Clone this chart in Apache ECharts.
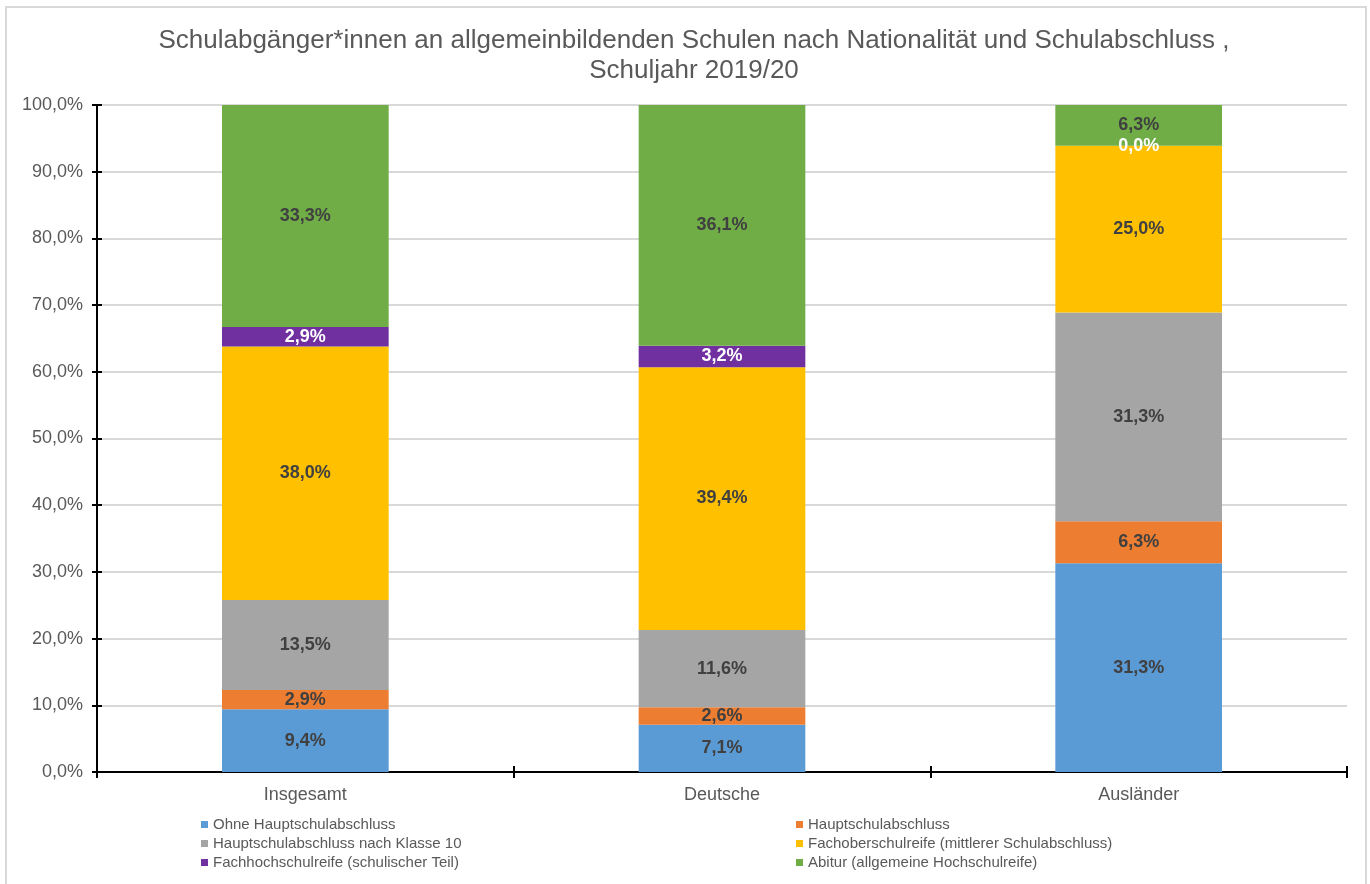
<!DOCTYPE html>
<html>
<head>
<meta charset="utf-8">
<script src="https://cdn.jsdelivr.net/npm/echarts@6/dist/echarts.min.js"></script>
<style>
  html, body { margin: 0; padding: 0; background: #ffffff; }
  #chart { width: 1370px; height: 884px; }
</style>
</head>
<body>
<div id="chart"></div>
<script>
// Schulabgänger*innen 2019/20, Anteile in Prozent je Gruppe
const categories = ['Insgesamt', 'Deutsche', 'Ausländer'];

const ohneHauptschulabschluss = [9.4, 7.1, 31.3];
const hauptschulabschluss = [2.9, 2.6, 6.3];
const hauptschulabschlussKlasse10 = [13.5, 11.6, 31.3];
const fachoberschulreife = [38.0, 39.4, 25.0];
const fachhochschulreife = [2.9, 3.2, 0.0];
const abitur = [33.3, 36.1, 6.3];

const yTicks = [0, 10, 20, 30, 40, 50, 60, 70, 80, 90, 100];

const seriesDefs = [
  { name: 'Ohne Hauptschulabschluss', data: ohneHauptschulabschluss, color: '#5b9bd5', label: '#404040' },
  { name: 'Hauptschulabschluss', data: hauptschulabschluss, color: '#ed7d31', label: '#404040' },
  { name: 'Hauptschulabschluss nach Klasse 10', data: hauptschulabschlussKlasse10, color: '#a5a5a5', label: '#404040' },
  { name: 'Fachoberschulreife (mittlerer Schulabschluss)', data: fachoberschulreife, color: '#ffc000', label: '#404040' },
  { name: 'Fachhochschulreife (schulischer Teil)', data: fachhochschulreife, color: '#7030a0', label: '#ffffff' },
  { name: 'Abitur (allgemeine Hochschulreife)', data: abitur, color: '#70ad47', label: '#404040' }
];

const fmt = v => v.toFixed(1).replace('.', ',') + '%';
const FONT = '"Liberation Sans", Arial, sans-serif';
const GREY = '#595959';

const chart = echarts.init(document.getElementById('chart'), null, { renderer: 'canvas' });

const legendText = { color: GREY, fontSize: 15, fontFamily: FONT };

chart.setOption({
  animation: false,
  backgroundColor: '#ffffff',
  textStyle: { fontFamily: FONT },
  graphic: [{
    type: 'rect',
    shape: { x: 6, y: 7, width: 1360, height: 890 },
    style: { fill: 'none', stroke: '#d9d9d9', lineWidth: 2 },
    silent: true
  }],
  title: {
    text: 'Schulabgänger*innen an allgemeinbildenden Schulen nach Nationalität und Schulabschluss ,\nSchuljahr 2019/20',
    left: 689,
    top: 21,
    textAlign: 'center',
    textStyle: { color: GREY, fontSize: 26, fontWeight: 'normal', lineHeight: 30, fontFamily: FONT }
  },
  legend: [{
    orient: 'vertical',
    left: 196,
    top: 812,
    itemWidth: 7,
    itemHeight: 7,
    itemGap: 4,
    icon: 'rect',
    textStyle: legendText,
    data: [seriesDefs[0].name, seriesDefs[2].name, seriesDefs[4].name]
  }, {
    orient: 'vertical',
    left: 791,
    top: 812,
    itemWidth: 7,
    itemHeight: 7,
    itemGap: 4,
    icon: 'rect',
    textStyle: legendText,
    data: [seriesDefs[1].name, seriesDefs[3].name, seriesDefs[5].name]
  }],
  grid: { left: 97, right: 23, top: 105, bottom: 112, containLabel: false },
  xAxis: [{
    type: 'category',
    data: categories,
    position: 'bottom',
    axisLine: { lineStyle: { color: '#000000', width: 2 } },
    axisTick: { show: true, alignWithLabel: false, length: 6, lineStyle: { color: '#000000', width: 2 } },
    axisLabel: { color: GREY, fontSize: 18, margin: 14, fontFamily: FONT }
  }, {
    type: 'category',
    data: categories,
    position: 'bottom',
    axisLine: { show: false },
    axisTick: { show: true, inside: true, alignWithLabel: false, length: 6, lineStyle: { color: '#000000', width: 2 } },
    axisLabel: { show: false }
  }],
  yAxis: [{
    type: 'value',
    min: 0,
    max: 100,
    interval: 10,
    position: 'left',
    axisLine: { show: true, lineStyle: { color: '#000000', width: 2 } },
    axisTick: { show: true, length: 5, lineStyle: { color: '#000000', width: 2 } },
    axisLabel: {
      color: GREY, fontSize: 18, margin: 14, fontFamily: FONT,
      formatter: v => yTicks.includes(v) ? fmt(v) : ''
    },
    splitLine: { show: true, lineStyle: { color: '#d9d9d9', width: 2 } }
  }, {
    type: 'value',
    min: 0,
    max: 100,
    interval: 10,
    position: 'left',
    axisLine: { show: false },
    axisTick: { show: true, inside: true, length: 5, lineStyle: { color: '#000000', width: 2 } },
    axisLabel: { show: false },
    splitLine: { show: false }
  }],
  series: seriesDefs.map(s => ({
    name: s.name,
    type: 'bar',
    stack: 'total',
    barWidth: '40%',
    data: s.data,
    itemStyle: { color: s.color },
    label: {
      show: true,
      position: 'inside',
      padding: [6, 0, 0, 0],
      color: s.label,
      fontSize: 18,
      fontWeight: 'bold',
      fontFamily: FONT,
      formatter: p => fmt(p.value)
    },
    labelLayout: { hideOverlap: false }
  }))
});
</script>
</body>
</html>
